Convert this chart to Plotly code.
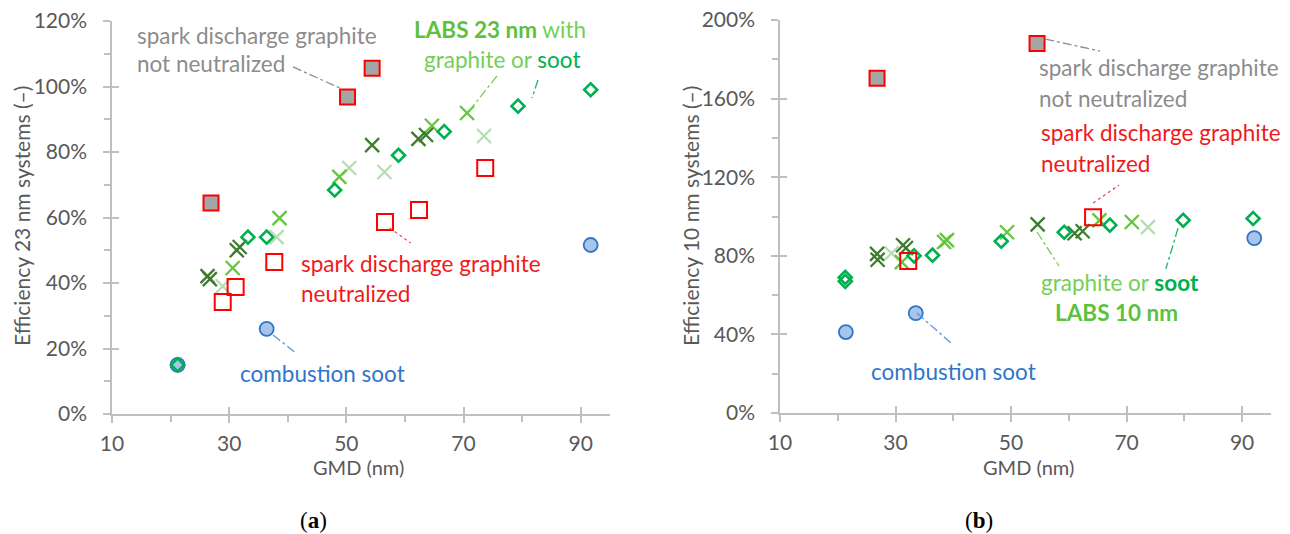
import plotly.graph_objects as go

# ---------------- data: panel (a) 23 nm ----------------
a_notneut_gmd = [26.9, 50.2, 54.4]
a_notneut_eff = [64.4, 96.8, 105.6]
a_neut_gmd = [28.9, 31.1, 37.7, 56.6, 62.4, 73.7]
a_neut_eff = [34.2, 38.8, 46.4, 58.6, 62.3, 75.1]
a_comb_gmd = [21.2, 36.4, 91.7]
a_comb_eff = [15.0, 26.0, 51.6]
a_soot_gmd = [21.2, 33.2, 36.4, 48.0, 58.9, 66.7, 79.3, 91.7]
a_soot_eff = [15.0, 54.0, 54.0, 68.4, 79.0, 86.2, 94.0, 99.0]
a_gdark_gmd = [26.3, 26.7, 31.3, 31.8, 54.4, 62.3, 63.6]
a_gdark_eff = [42.1, 41.2, 50.0, 51.0, 82.1, 84.0, 85.2]
a_gmid_gmd = [30.6, 38.6, 48.8, 64.6, 70.6]
a_gmid_eff = [44.6, 59.8, 72.4, 88.0, 91.9]
a_gpale_gmd = [28.9, 38.1, 50.5, 56.5, 73.5]
a_gpale_eff = [39.0, 54.0, 75.1, 73.9, 84.9]

# ---------------- data: panel (b) 10 nm ----------------
b_notneut_gmd = [26.8, 54.5]
b_notneut_eff = [170.3, 188.0]
b_neut_gmd = [32.2, 64.2]
b_neut_eff = [77.3, 99.6]
b_comb_gmd = [21.4, 33.5, 92.1]
b_comb_eff = [41.2, 50.8, 89.0]
b_soot_gmd = [21.3, 21.3, 33.2, 36.4, 48.3, 59.2, 67.1, 79.8, 91.9]
b_soot_eff = [69.0, 67.0, 80.0, 80.3, 87.4, 92.0, 95.6, 98.1, 99.0]
b_gdark_gmd = [26.8, 26.9, 31.3, 31.8, 54.6, 61.0, 62.4]
b_gdark_eff = [81.0, 78.0, 85.4, 84.0, 96.0, 91.5, 92.5]
b_gmid_gmd = [31.1, 38.4, 38.9, 49.3, 65.3, 70.9]
b_gmid_eff = [76.8, 87.0, 88.0, 92.0, 98.0, 97.2]
b_gpale_gmd = [29.3, 73.7]
b_gpale_eff = [81.3, 94.6]

x_ticks = [10, 30, 50, 70, 90]
a_y_ticks = [0, 20, 40, 60, 80, 100, 120]
b_y_ticks = [0, 40, 80, 120, 160, 200]

# ---------------- styles ----------------
FONT = "Lato"
AX = "#BFBFBF"
TXT = "#595959"
GRAY_T = "#8C8C8C"
RED = "#FF0000"
BLUE_T = "#2F76CB"
SOOT = "#00B050"
GDARK = "#3C7D2E"
GMID = "#63C63C"
GPALE = "#B5DEB0"
LABS = "#5DC13E"
LIGHT = "#74CF55"

fig = go.Figure()


def add_panel(xa, ya, comb, gpale, gmid, gdark, soot, neut, notneut):
    common = dict(mode="markers", xaxis=xa, yaxis=ya, showlegend=False, hoverinfo="x+y")
    fig.add_trace(go.Scatter(x=comb[0], y=comb[1], marker=dict(symbol="circle", size=14, color="#A9C4E9",
                  line=dict(color="#2F76CB", width=1.8)), **common))
    for d, c in ((gpale, GPALE), (gmid, GMID), (gdark, GDARK)):
        fig.add_trace(go.Scatter(x=d[0], y=d[1], marker=dict(symbol="x-thin", size=14, color=c,
                      line=dict(color=c, width=2.3)), **common))
    fig.add_trace(go.Scatter(x=soot[0], y=soot[1], marker=dict(symbol="diamond-open", size=10, color=SOOT,
                  line=dict(color=SOOT, width=2.6)), **common))
    fig.add_trace(go.Scatter(x=neut[0], y=neut[1], marker=dict(symbol="square-open", size=16, color=RED,
                  line=dict(color=RED, width=2)), **common))
    fig.add_trace(go.Scatter(x=notneut[0], y=notneut[1], marker=dict(symbol="square", size=15, color="#A5A5A5",
                  line=dict(color=RED, width=2)), **common))


add_panel("x", "y", (a_comb_gmd, a_comb_eff), (a_gpale_gmd, a_gpale_eff), (a_gmid_gmd, a_gmid_eff),
          (a_gdark_gmd, a_gdark_eff), (a_soot_gmd, a_soot_eff), (a_neut_gmd, a_neut_eff),
          (a_notneut_gmd, a_notneut_eff))
add_panel("x2", "y2", (b_comb_gmd, b_comb_eff), (b_gpale_gmd, b_gpale_eff), (b_gmid_gmd, b_gmid_eff),
          (b_gdark_gmd, b_gdark_eff), (b_soot_gmd, b_soot_eff), (b_neut_gmd, b_neut_eff),
          (b_notneut_gmd, b_notneut_eff))

# invisible traces so overlay axes (inner half of crossing ticks) get drawn
for xa, ya in (("x3", "y"), ("x", "y3"), ("x4", "y2"), ("x2", "y4")):
    fig.add_trace(go.Scatter(x=[], y=[], xaxis=xa, yaxis=ya, showlegend=False, hoverinfo="skip"))

W, H = 1290, 534
A_X = [112 / W, 610 / W]
A_Y = [(H - 414) / H, (H - 21) / H]
B_X = [780 / W, 1271 / W]
B_Y = [(H - 413) / H, (H - 20) / H]

tickfont = dict(family=FONT, size=21, color=TXT)


def xaxis(domain, anchor):
    return dict(domain=domain, anchor=anchor, range=[10, 95], tickvals=x_ticks, ticks="outside",
                ticklen=7, tickwidth=1.5, tickcolor=AX, showline=True, linecolor=AX, linewidth=1.5,
                showgrid=False, zeroline=False, tickfont=tickfont, fixedrange=True, automargin=False,
                ticklabelstandoff=3,
                minor=dict(tickvals=[20, 40, 60, 80], ticks="outside", ticklen=6, tickwidth=1.5, tickcolor=AX))


def yaxis(domain, anchor, rng, ticks, minor):
    return dict(domain=domain, anchor=anchor, range=rng, tickvals=ticks, ticktext=[f"{t}%" for t in ticks],
                ticks="outside", ticklen=7, tickwidth=1.5, tickcolor=AX, showline=True, linecolor=AX,
                linewidth=1.5, showgrid=False, zeroline=False, tickfont=tickfont, fixedrange=True,
                automargin=False, ticklabelstandoff=12,
                minor=dict(tickvals=minor, ticks="outside", ticklen=6, tickwidth=1.5, tickcolor=AX))


def over(base, anchor, rng, vals, side=None):
    d = dict(overlaying=base, anchor=anchor, range=rng, tickvals=vals, ticks="inside", ticklen=7, tickwidth=1.5,
             tickcolor=AX, showticklabels=False, showline=False, showgrid=False, zeroline=False, fixedrange=True,
             automargin=False)
    if side:
        d["side"] = side
    return d


fig.update_layout(
    width=W, height=H, margin=dict(l=0, r=0, t=0, b=0, autoexpand=False),
    paper_bgcolor="white", plot_bgcolor="rgba(0,0,0,0)",
    xaxis=xaxis(A_X, "y"),
    yaxis=yaxis(A_Y, "x", [0, 120], a_y_ticks, [10, 30, 50, 70, 90, 110]),
    xaxis2=xaxis(B_X, "y2"),
    yaxis2=yaxis(B_Y, "x2", [0, 200], b_y_ticks, [20, 60, 100, 140, 180]),
    xaxis3=over("x", "y", [10, 95], x_ticks, "bottom"),
    yaxis3=over("y", "x", [0, 120], a_y_ticks, "left"),
    xaxis4=over("x2", "y2", [10, 95], x_ticks, "bottom"),
    yaxis4=over("y2", "x2", [0, 200], b_y_ticks, "left"),
)

# ---------------- annotations ----------------
TFS = 22.5


def txt(xref, yref, x, y, text, color, anchor="left", size=TFS):
    fig.add_annotation(xref=xref, yref=yref, x=x, y=y, text=text, showarrow=False, xanchor=anchor,
                       yanchor="middle", font=dict(family=FONT, size=size, color=color))


def leader(xref, yref, p0, p1, color, dash="dashdot"):
    fig.add_shape(type="line", xref=xref, yref=yref, x0=p0[0], y0=p0[1], x1=p1[0], y1=p1[1],
                  line=dict(color=color, width=1.3, dash=dash))


# panel (a)
txt("x", "y", 13.9, 115.7, "spark discharge graphite", GRAY_T)
txt("x", "y", 13.9, 106.9, "not neutralized", GRAY_T)
leader("x", "y", (40.9, 106.0), (48.9, 99.5), GRAY_T)
txt("x", "y", 76.2, 117.3, f"<b>LABS 23 nm</b><span style='color:{LIGHT}'> with</span>", LABS, "center")
txt("x", "y", 76.6, 108.1, f"<span style='color:{LIGHT}'>graphite or </span><span style='color:{SOOT}'>soot</span>",
    LABS, "center")
leader("x", "y", (75.7, 103.2), (71.1, 92.8), LIGHT)
leader("x", "y", (82.7, 102.0), (81.7, 96.5), "#19B866")
txt("x", "y", 41.9, 46.1, "spark discharge graphite", "#F01A1A")
txt("x", "y", 41.9, 36.9, "neutralized", "#F01A1A")
leader("x", "y", (57.4, 56.8), (61.0, 52.2), "#F05050", "dot")
txt("x", "y", 31.5, 12.5, "combustion soot", BLUE_T)
leader("x", "y", (37.5, 24.1), (41.4, 18.6), "#5A95D8")

# panel (b)
txt("x2", "y2", 54.5, 175.6, "spark discharge graphite", GRAY_T)
txt("x2", "y2", 54.5, 160.3, "not neutralized", GRAY_T)
leader("x2", "y2", (55.9, 190.3), (65.4, 184.2), GRAY_T)
txt("x2", "y2", 54.8, 142.5, "spark discharge graphite", "#F01A1A")
txt("x2", "y2", 54.8, 127.2, "neutralized", "#F01A1A")
leader("x2", "y2", (64.2, 106.9), (68.7, 116.0), "#F05050", "dot")
txt("x2", "y2", 68.8, 66.2, f"<span style='color:{LIGHT}'>graphite or </span><span style='color:{SOOT}'><b>soot</b></span>",
    LABS, "center")
txt("x2", "y2", 68.3, 50.9, "<b>LABS 10 nm</b>", LABS, "center")
leader("x2", "y2", (54.5, 92.1), (58.3, 74.8), LIGHT)
leader("x2", "y2", (78.9, 94.1), (76.8, 73.3), "#19B866")
txt("x2", "y2", 25.4, 20.9, "combustion soot", BLUE_T)
leader("x2", "y2", (33.7, 50.9), (39.8, 35.1), "#5A95D8")


def ptxt(x, y, text, font, angle=0):
    fig.add_annotation(xref="paper", yref="paper", x=x / W, y=1 - y / H, text=text, textangle=angle,
                       showarrow=False, xanchor="center", yanchor="middle", font=font)


# axis titles and panel labels
ptxt(21, 216, "Efficiency 23 nm systems (–)", dict(family=FONT, size=21, color=TXT), -90)
ptxt(690, 216, "Efficiency 10 nm systems (–)", dict(family=FONT, size=21, color=TXT), -90)
ptxt(358, 467, "GMD (nm)", dict(family=FONT, size=20, color=TXT))
ptxt(1028, 467, "GMD (nm)", dict(family=FONT, size=20, color=TXT))
ptxt(313, 520, "(<b>a</b>)", dict(family="Liberation Serif", size=23, color="black"))
ptxt(979, 520, "(<b>b</b>)", dict(family="Liberation Serif", size=23, color="black"))

fig.write_html("out.html")
